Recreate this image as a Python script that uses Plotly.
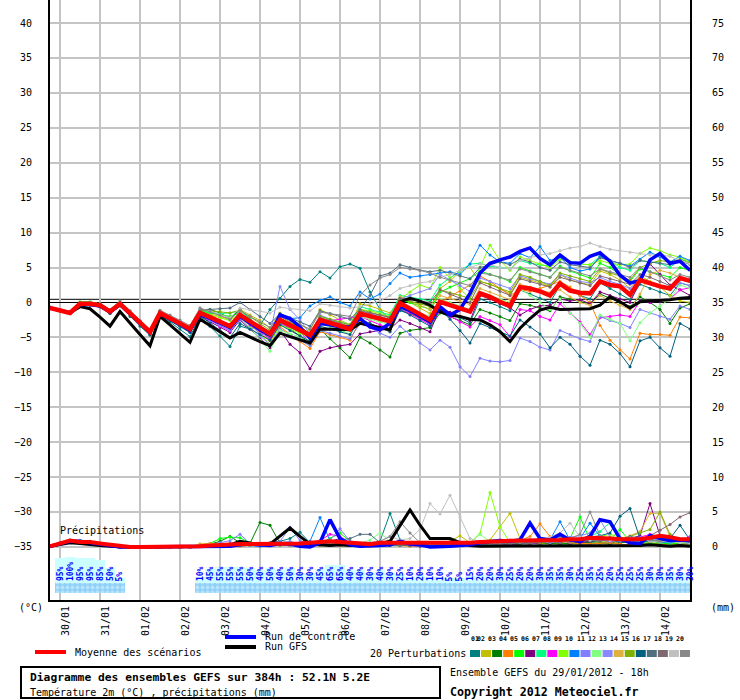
import plotly.graph_objects as go

FONT = "DejaVu Sans Mono"

# 6-hourly steps from 29/01 18h, 384h
hours = list(range(0, 385, 6))
day_ticks = list(range(6, 385, 24))
day_labels = ["30/01", "31/01", "01/02", "02/02", "03/02", "04/02", "05/02", "06/02",
              "07/02", "08/02", "09/02", "10/02", "11/02", "12/02", "13/02", "14/02"]

# temperature 2m (degC)
mean_t = [-0.8, -1.1, -1.5, -0.2, -0.2, -0.4, -1.3, -0.2, -1.5, -2.9, -4.2, -1.5, -2.2, -3.0, -3.8,
          -1.5, -2.1, -2.8, -3.4, -1.8, -2.7, -3.6, -4.5, -2.5, -3.2, -3.9, -4.7, -2.5, -2.9, -3.3,
          -3.8, -1.6, -2.0, -2.4, -2.7, -0.1, -0.9, -1.7, -2.5, 0.1, -0.4, -0.9, -1.3, 1.3, 0.8,
          0.1, -0.5, 2.2, 2.0, 1.6, 1.0, 2.7, 1.7, 1.4, 1.3, 3.0, 2.5, 2.3, 1.1, 3.2,
          2.7, 2.3, 2.0, 3.5, 3.1]
ctrl_t = [-0.8, -1.1, -1.5, -0.3, -0.3, -0.5, -1.4, -0.3, -1.6, -3.0, -4.3, -1.6, -2.3, -3.1, -4.0,
          -1.7, -2.3, -3.0, -3.6, -2.0, -3.0, -3.9, -4.7, -1.8, -2.3, -3.5, -5.1, -3.0, -3.2, -3.5,
          -3.5, -2.3, -3.5, -3.9, -3.0, -0.6, -1.2, -2.0, -2.8, -0.6, -1.8, -1.0, 1.3, 4.2, 5.6,
          6.1, 6.5, 7.3, 7.8, 6.3, 5.4, 6.8, 5.7, 5.6, 6.6, 7.1, 5.9, 3.9, 2.8, 3.1,
          6.1, 7.0, 5.6, 5.9, 4.6]
gfs_t = [-0.8, -1.1, -1.5, -0.6, -0.9, -2.1, -3.4, -1.3, -3.0, -4.6, -6.2, -2.0, -3.2, -4.4, -5.7,
         -2.4, -3.3, -4.2, -5.1, -4.3, -5.0, -5.6, -6.2, -4.4, -4.9, -5.4, -5.8, -3.8, -3.8, -3.9,
         -3.9, -3.0, -3.3, -3.5, -3.9, 0.1, 0.6, 0.2, -0.4, -1.3, -1.8, -2.0, -2.4, -2.5, -3.2,
         -4.2, -5.6, -3.7, -2.3, -1.1, -0.7, -1.0, -1.0, -1.0, -0.9, -0.4, 0.8, 0.1, -0.8, 0.1,
         0.2, 0.2, 0.4, 0.6, 0.7]

# precipitation (mm per 6h)
mean_p = [0.1, 0.5, 0.9, 0.7, 0.7, 0.5, 0.3, 0.1, 0, 0, 0, 0, 0, 0, 0,
          0.1, 0.2, 0.3, 0.3, 0.4, 0.4, 0.4, 0.4, 0.5, 0.5, 0.5, 0.6, 0.7, 0.8, 0.7,
          0.6, 0.5, 0.4, 0.6, 0.6, 0.5, 0.5, 0.5, 0.5, 0.5,
          0.6, 0.6, 0.6, 0.7, 0.7, 0.8, 0.9, 0.9, 1.0, 1.0,
          1.0, 1.0, 1.1, 1.1, 1.3, 1.3, 1.2, 1.1, 1.1, 1.1,
          1.3, 1.6, 1.4, 1.1, 1.1]
ctrl_p = [0.1, 0.5, 0.8, 0.8, 0.6, 0.4, 0.2, 0.0, 0, 0, 0, 0, 0, 0, 0,
          0.0, 0.0, 0.0, 0.1, 0.3, 0.4, 0.3, 0.2, 0.5, 0.4,
          0.1, 0.0, 0.6, 3.9, 1.2, 0.3, 0.1, 0.1, 0.2, 0.3,
          0.8, 0.4, 0.3, 0.0, 0.0, 0.1, 0.2, 0.3, 0.6, 0.8,
          0.9, 0.8, 1.0, 3.4, 1.2, 1.0, 1.8, 1.0, 0.8, 1.5,
          3.9, 3.6, 1.2, 0.6, 0.5, 1.6, 1.2, 0.9, 1.0, 0.9]
gfs_p = [0.1, 0.4, 0.6, 0.5, 0.3, 0.2, 0.1, 0.0, 0, 0, 0, 0, 0, 0, 0,
         0.0, 0.1, 0.2, 0.3, 0.8, 0.6, 0.3, 0.4, 1.5, 2.7,
         1.5, 0.4, 0.3, 0.2, 0.3, 0.2, 0.3, 0.4, 0.5, 0.8,
         3.1, 5.3, 3.1, 1.2, 1.2, 1.2, 0.6, 0.2, 0.1, 0.1,
         0.1, 0.2, 0.1, 0.1, 0.2, 0.1, 0.1, 0.2, 0.2, 0.1,
         0.1, 0.1, 0.2, 0.1, 0.2, 0.3, 0.2, 0.1, 0.2, 0.1]

# 20 perturbations, temperature
p01_t = [-0.8, -1.2, -1.6, -0.2, -0.3, -0.6, -1.6, -0.5, -2.0, -3.4, -4.7, -1.9, -2.8, -3.8, -4.9,
         -2.0, -3.4, -4.8, -6.3, -3.4, -3.8, -3.3, -1.0, 0.6, 2.3, 3.3, 2.9, 4.4, 3.5, 5.1,
         5.5, 4.9, 1.5, -1.0, -2.5, -1.2, -1.6, -2.2, -3.0, -0.8, -1.5, -2.2, -2.9, 0.5, 0.0,
         -0.6, -1.2, 1.8, 1.2, 0.6, 0.0, 2.4, 1.8, 1.0, 0.5, 2.8, 2.0, 1.2, 0.4, 2.6, 2.0, 1.5, 1.0, 2.8, 2.4]
p02_t = [-0.8, -1.1, -1.4, -0.1, -0.1, -0.3, -1.1, 0.0, -1.3, -2.6, -3.9, -1.2, -2.0, -2.8, -3.5,
         -1.3, -1.6, -2.0, -2.5, -1.0, -1.8, -2.6, -3.6, -1.5, -2.3, -3.2, -4.0, -1.0, -1.8, -2.5,
         -3.2, -0.2, -0.5, -1.0, -1.5, 0.5, 0.0, -0.8, -1.6, 2.0, 3.0, 4.5, 5.0, 3.0, 2.6,
         2.0, 1.2, 3.6, 3.2, 2.8, 2.2, 4.0, 3.2, 2.8, 2.5, 4.5, 4.0, 3.2, 2.0, 3.8, 3.0, 2.2, 1.0, 0.2, 0.0]
p03_t = [-0.7, -1.0, -1.4, 0.0, 0.0, -0.2, -1.1, -0.1, -1.5, -3.0, -4.4, -1.6, -2.4, -3.3, -4.2,
         -1.2, -1.0, -1.5, -2.3, -1.0, -2.4, -3.8, -5.2, -2.8, -3.8, -4.8, -6.0, -3.8, -5.2, -6.5,
         -7.9, -5.0, -5.8, -6.8, -7.8, -4.4, -4.0, -3.8, -3.6, -1.5, -2.0, -2.6, -3.2, -1.0, -1.5,
         -2.0, -2.6, -0.2, -0.4, -0.8, -1.2, 0.8, 0.5, 0.2, -0.2, 1.2, 0.6, 0.0, -0.6, 0.8, 0.0, -1.0, -3.0, -0.8, -0.2]
p04_t = [-0.9, -1.2, -1.6, -0.3, -0.3, -0.5, -1.4, -0.3, -1.7, -3.1, -4.5, -1.8, -2.5, -3.3, -4.1,
         -1.6, -2.3, -3.0, -3.7, -2.2, -3.3, -4.4, -5.5, -3.5, -4.6, -5.6, -6.6, -4.2, -4.6, -5.0,
         -5.4, -2.6, -3.0, -3.6, -4.2, -1.0, -1.6, -2.2, -2.8, 0.0, 0.8, 1.6, 2.5, 3.8, 3.0,
         2.0, 1.0, 1.8, 1.6, 2.0, 2.5, 3.0, 2.2, 1.0, 0.0, -3.3, -5.4, -6.8, -8.1, -4.4, -4.6, -4.6, -4.7, -2.1, -2.2]
p05_t = [-0.7, -1.0, -1.4, 0.1, 0.1, -0.2, -1.0, 0.0, -1.3, -2.7, -4.0, -1.3, -2.0, -2.8, -3.6,
         -1.3, -1.5, -1.8, -2.0, -1.5, -2.8, -4.0, -5.2, -3.0, -3.6, -4.2, -4.8, -2.2, -2.8, -3.4,
         -4.0, -1.3, -1.8, -2.4, -3.0, 0.4, 0.0, -0.5, -1.0, 1.5, 2.2, 2.8, 3.4, 4.5, 4.0,
         3.6, 3.0, 5.0, 4.5, 4.0, 3.6, 5.2, 4.5, 4.0, 3.5, 5.6, 5.0, 4.0, 3.0, 4.8, 4.4, 4.0, 3.6, 5.0, 4.6]
p06_t = [-0.8, -1.1, -1.5, -0.3, -0.3, -0.5, -1.5, -0.4, -1.7, -3.0, -4.4, -1.7, -2.4, -3.3, -4.2,
         -2.0, -2.8, -3.6, -4.3, -2.5, -3.8, -5.2, -6.5, -4.0, -6.0, -7.2, -9.5, -7.0, -6.5, -6.2,
         -6.0, -4.5, -4.2, -4.0, -3.8, -2.5, -3.0, -3.6, -4.2, -0.8, -1.4, -2.0, -2.6, 1.0, 0.5,
         -0.2, -0.8, -1.8, -1.0, -0.5, -0.4, 0.5, 0.2, 0.4, -0.2, 1.5, 1.0, 0.5, 0.0, 3.0, 5.5, 4.0, 2.5, 1.8, 1.0]
p07_t = [-0.7, -1.0, -1.4, 0.0, 0.0, -0.3, -1.2, -0.1, -1.4, -2.8, -4.1, -1.4, -2.0, -2.8, -3.6,
         -1.2, -1.4, -1.6, -1.5, -1.2, -2.4, -3.6, -4.8, -2.4, -3.2, -4.0, -4.8, -2.0, -2.4, -2.8,
         -3.2, -0.6, -1.0, -1.4, -1.8, 1.0, 0.8, 0.5, 0.2, 2.5, 3.5, 4.5, 5.5, 5.6, 5.2,
         5.0, 4.8, 6.0, 5.6, 5.4, 5.2, 6.4, 5.8, 5.5, 5.4, 6.6, 6.0, 5.0, 4.6, 6.0, 5.8, 5.6, 5.0, 6.2, 5.8]
p08_t = [-0.8, -1.1, -1.5, -0.2, -0.2, -0.4, -1.3, -0.2, -1.6, -3.0, -4.3, -1.6, -2.4, -3.2, -4.0,
         -1.8, -2.6, -3.4, -4.1, -2.2, -3.2, -4.2, -5.2, -3.0, -3.6, -4.2, -5.8, -3.0, -2.6, -2.4,
         -2.3, -2.0, -2.6, -3.2, -3.8, -1.0, -1.6, -2.4, -3.2, -1.2, -2.0, -2.8, -3.5, -2.0, -2.6,
         -3.2, -4.9, -1.0, -1.2, -2.0, -2.5, -0.2, -1.5, -2.8, -4.6, -2.2, -2.0, -1.8, -2.0, 0.2, 0.0, 0.2, 0.5, 1.8, 2.1]
p09_t = [-0.7, -1.0, -1.4, 0.0, 0.0, -0.2, -1.1, 0.0, -1.3, -2.7, -4.0, -1.2, -2.0, -2.8, -3.6,
         -1.4, -1.8, -2.2, -2.6, -1.5, -3.0, -4.5, -6.0, -3.2, -3.8, -4.4, -5.0, -2.3, -2.8, -3.4,
         -4.0, -1.0, -1.2, -1.6, -2.0, 0.5, 1.5, 2.5, 2.0, 5.0, 3.5, 2.0, 0.5, 5.0, 8.2,
         6.0, 4.6, 6.5, 6.0, 5.5, 5.0, 6.2, 5.8, 5.5, 5.4, 6.0, 5.6, 5.4, 5.5, 7.0, 7.8, 7.4, 6.8, 6.5, 5.8]
p10_t = [-0.8, -1.1, -1.5, -0.3, -0.3, -0.5, -1.4, -0.3, -1.6, -3.0, -4.3, -1.6, -2.3, -3.1, -3.9,
         -1.6, -2.2, -2.8, -3.4, -1.8, -2.6, -3.4, -4.2, -2.0, -2.3, -2.2, -0.5, 0.3, 0.8, 0.0,
         -0.5, 1.5, 0.5, 1.2, 2.7, 4.2, 3.6, 3.8, 4.0, 4.2, 4.4, 4.0, 5.5, 8.2, 6.8,
         5.8, 5.6, 7.0, 6.4, 8.0, 6.0, 6.5, 5.0, 4.5, 4.8, 6.6, 6.0, 5.6, 5.2, 6.2, 7.2, 6.5, 5.8, 6.6, 6.0]
p11_t = [-0.8, -1.1, -1.5, -0.2, -0.3, -0.5, -1.4, -0.3, -1.7, -3.1, -4.4, -1.8, -2.5, -3.3, -4.1,
         -1.9, -2.6, -3.3, -4.0, -2.4, -3.6, -4.8, -6.0, -3.8, -4.6, -5.4, -6.2, -4.0, -4.4, -4.8,
         -5.2, -3.0, -3.6, -4.4, -5.0, -3.4, -4.6, -5.8, -6.8, -5.4, -6.4, -9.2, -10.6, -8.0, -8.4,
         -8.5, -8.3, -5.1, -5.6, -6.4, -6.8, -4.0, -4.6, -5.2, -5.6, -2.0, -2.6, -3.0, -3.6, -1.0, -1.5, -2.0, -2.4, -0.5, -1.0]
p12_t = [-0.8, -1.1, -1.5, -0.2, -0.2, -0.4, -1.3, -0.2, -1.6, -3.0, -4.3, -1.5, -2.3, -3.1, -3.9,
         -1.6, -2.3, -3.0, -3.6, -2.0, -3.7, -5.4, -7.0, -4.0, -4.5, -5.0, -5.4, -3.0, -3.5, -4.0,
         -4.5, -2.0, -2.4, -2.8, -3.2, -0.5, -1.0, -1.5, -2.0, 0.5, 0.0, -0.5, -1.0, 1.5, 1.0,
         0.5, 0.0, 2.0, 1.0, 0.0, -1.0, 0.5, -1.5, -3.0, -5.0, -1.8, -2.4, -3.0, -5.5, -2.9, -1.5, -0.5, 0.5, 2.5, 2.0]
p13_t = [-0.8, -1.1, -1.5, -0.2, -0.3, -0.5, -1.3, -0.3, -1.5, -2.9, -4.2, -1.5, -2.3, -3.0, -3.8,
         -1.5, -2.1, -2.7, -3.3, -1.3, -3.0, -4.6, -4.5, 2.3, -1.0, -2.5, -4.5, -1.8, -2.4, -3.0,
         -3.6, -1.2, -1.6, -2.0, -2.4, 0.5, 1.0, 1.5, 2.0, 4.0, 3.2, 2.4, 1.6, 3.5, 3.0,
         2.5, 2.0, 3.8, 3.4, 3.0, 2.6, 4.0, 3.5, 3.0, 2.8, 3.6, 3.0, 2.6, 2.0, 3.4, 2.8, 2.2, 1.8, 2.8, 2.4]
p14_t = [-0.7, -1.0, -1.4, -0.1, -0.1, -0.3, -1.2, -0.1, -1.4, -2.8, -4.1, -1.3, -2.1, -2.9, -3.7,
         -1.4, -2.0, -2.6, -3.2, -1.6, -2.6, -3.6, -4.6, -2.4, -3.0, -3.6, -4.4, -2.2, -2.6, -3.0,
         -3.4, -1.4, -1.8, -2.2, -2.6, 0.8, 0.2, -0.4, -1.0, 1.0, 0.6, 0.2, -0.3, 2.0, 1.5,
         1.0, 0.4, 2.6, 2.2, 1.8, 1.4, 1.8, 0.8, 0.0, -0.4, 1.0, 0.2, -0.4, -1.0, 1.2, 4.0, 4.6, 4.2, 3.6, 3.0]
p15_t = [-0.7, -1.0, -1.4, 0.0, 0.0, -0.3, -1.2, -0.1, -1.4, -2.8, -4.1, -1.4, -2.1, -2.9, -3.7,
         -1.2, -1.2, -1.3, -1.5, -1.1, -2.0, -3.0, -4.0, -2.0, -2.8, -3.6, -4.4, -2.0, -2.4, -2.8,
         -3.2, -1.0, -1.4, -1.8, -2.2, 0.6, 0.2, -0.2, -0.6, 1.8, 1.4, 1.0, 0.6, 3.0, 2.6,
         2.0, 1.5, 4.0, 3.6, 3.0, 2.4, 4.2, 3.8, 3.4, 3.0, 4.8, 4.2, 3.8, 3.2, 5.0, 5.6, 6.0, 5.8, 6.2, 5.6]
p16_t = [-0.9, -1.2, -1.6, -0.3, -0.4, -0.6, -1.5, -0.4, -1.8, -3.2, -4.6, -1.8, -2.6, -3.4, -4.3,
         -1.9, -3.0, -4.0, -5.0, -3.0, -3.8, -4.6, -5.4, -3.2, -4.0, -4.8, -5.6, -3.4, -3.8, -4.2,
         -4.6, -2.4, -3.0, -3.6, -4.2, -1.0, -1.8, -2.6, -3.4, -1.0, -2.4, -4.0, -5.8, -3.0, -3.6,
         -4.2, -4.8, -2.5, -3.5, -4.5, -6.5, -5.0, -6.0, -7.7, -9.0, -5.4, -6.0, -7.3, -9.2, -5.5, -5.0, -6.5, -7.7, -3.0, -3.8]
p17_t = [-0.7, -1.0, -1.4, -0.1, -0.1, -0.3, -1.2, 0.0, -1.3, -2.7, -4.0, -1.2, -1.9, -2.7, -3.5,
         -1.0, -1.0, -0.9, -0.8, 0.0, -1.0, -2.0, -3.0, -1.6, -2.2, -2.8, -3.4, -1.2, -1.6, -2.0,
         -2.4, -1.0, 1.0, 3.8, 4.2, 5.4, 5.0, 4.6, 4.4, 4.6, 4.2, 3.8, 3.4, 5.0, 5.4,
         5.8, 5.4, 6.2, 5.8, 5.0, 4.6, 5.8, 5.4, 5.2, 5.0, 6.4, 6.0, 5.6, 5.0, 6.0, 5.8, 5.6, 5.4, 6.0, 5.4]
p18_t = [-0.8, -1.1, -1.5, -0.2, -0.2, -0.4, -1.3, -0.2, -1.5, -2.9, -4.2, -1.4, -2.1, -2.9, -3.7,
         -1.4, -2.0, -2.6, -3.2, -1.7, -2.6, -3.5, -4.4, -2.3, -3.0, -3.7, -4.4, -2.2, -2.6, -3.0,
         -3.4, -1.2, -1.5, -1.8, -2.1, 0.6, 0.4, 0.2, 0.0, 1.8, 1.2, 0.6, 0.0, 2.8, 2.2,
         1.6, 1.0, 3.4, 3.0, 2.6, 2.2, 3.6, 3.2, 2.8, 2.4, 3.8, 3.4, 3.0, 2.6, 4.0, 3.6, 3.0, 2.4, 3.4, 3.0]
p19_t = [-0.7, -1.0, -1.4, 0.0, 0.0, -0.2, -1.0, 0.1, -1.2, -2.6, -3.9, -1.2, -1.9, -2.6, -3.4,
         -0.8, -1.3, -1.8, -2.2, -0.8, -1.0, -1.2, -1.5, -0.7, -0.9, -1.0, -1.2, -0.2, -0.4, -0.6,
         -0.8, -0.6, -0.2, 0.2, 1.0, 2.0, 2.4, 2.8, 3.0, 3.6, 4.0, 4.6, 5.0, 5.5, 5.4,
         5.0, 4.8, 6.0, 6.4, 6.8, 7.0, 7.4, 7.8, 8.0, 8.5, 8.0, 7.6, 7.4, 7.2, 7.0, 6.8, 6.8, 6.6, 6.0, 5.5]
p20_t = [-0.7, -1.0, -1.3, 0.0, 0.0, -0.2, -1.0, 0.2, -1.2, -2.6, -3.9, -1.1, -1.8, -2.5, -3.3,
         -0.8, -1.3, -1.8, -2.4, -1.2, -2.0, -2.8, -3.6, -2.0, -2.6, -3.2, -3.8, -1.4, -1.6, -1.8,
         -2.0, 1.0, 2.5, 3.5, 4.0, 5.0, 4.8, 4.6, 4.2, 3.6, 3.2, 2.8, 2.4, 4.2, 4.0,
         3.6, 3.2, 4.8, 4.4, 4.0, 3.6, 5.0, 4.6, 4.2, 3.8, 4.8, 4.4, 4.0, 3.6, 5.0, 4.4, 3.8, 3.2, 4.0, 3.6]

# 20 perturbations, precipitation
p01_p = [0.1, 0.6, 1.0, 0.8, 0.7, 0.5, 0.3, 0.1, 0, 0, 0, 0, 0, 0, 0,
         0.2, 0.3, 0.3, 0.5, 0.4, 0.3, 0.5, 0.6, 0.8, 1.2, 2.1, 0.6, 0.4, 0.5, 0.4,
         0.3, 0.4, 0.6, 0.8, 4.8, 1.0, 0.3, 0.2, 0.2, 0.3,
         0.3, 0.2, 0.2, 0.3, 0.4, 0.5, 0.4, 0.6, 0.5, 0.4,
         0.6, 0.5, 0.4, 0.6, 0.8, 0.7, 0.5, 0.9, 0.6, 0.5,
         0.4, 0.6, 0.5, 0.4, 0.3]
p02_p = [0.2, 0.5, 0.8, 0.7, 0.6, 0.4, 0.2, 0.0, 0, 0, 0, 0, 0, 0, 0,
         0.3, 0.4, 0.2, 0.3, 0.2, 0.3, 0.2, 0.4, 0.3, 0.2, 0.3, 0.2, 0.4, 0.3, 0.2,
         0.2, 0.3, 0.2, 0.3, 0.2, 0.3, 0.4, 0.3, 0.2, 0.5,
         0.8, 1.6, 0.6, 0.5, 1.0, 2.9, 4.8, 1.2, 0.6, 0.5,
         0.4, 0.6, 0.5, 0.4, 0.5, 0.6, 0.8, 0.6, 0.7, 1.0,
         0.8, 0.6, 0.5, 0.4, 0.5]
p03_p = [0.1, 0.4, 0.8, 0.9, 0.8, 0.5, 0.3, 0.1, 0, 0, 0, 0, 0, 0, 0,
         0.2, 0.4, 0.8, 1.5, 0.6, 0.5, 3.5, 3.1, 0.5, 0.3, 0.2, 0.2, 0.3, 0.4, 0.3,
         0.2, 0.3, 0.2, 0.2, 0.3, 0.2, 0.2, 0.3, 0.2, 0.1,
         0.2, 0.3, 0.2, 0.3, 0.4, 0.3, 0.2, 0.4, 0.5, 0.6,
         0.5, 0.4, 0.5, 0.7, 0.6, 0.5, 0.4, 0.6, 0.8, 0.9,
         0.7, 1.0, 0.8, 0.6, 0.5]
p04_p = [0.1, 0.5, 0.9, 0.6, 0.5, 0.4, 0.2, 0.0, 0, 0, 0, 0, 0, 0, 0,
         0.4, 0.5, 0.3, 0.2, 0.1, 0.2, 0.3, 0.2, 0.3, 0.4, 0.3, 0.2, 0.2, 0.3, 0.2,
         0.3, 0.2, 0.1, 0.2, 0.3, 0.2, 0.1, 0.2, 0.3, 0.2,
         0.3, 0.4, 0.3, 0.4, 0.5, 0.6, 0.8, 0.9, 1.5, 3.3,
         1.5, 0.8, 0.6, 0.5, 0.4, 0.5, 0.6, 0.4, 0.3, 0.5,
         0.6, 0.4, 0.3, 0.4, 0.3]
p05_p = [0.1, 0.5, 0.8, 0.8, 0.6, 0.4, 0.2, 0.0, 0, 0, 0, 0, 0, 0, 0,
         0.2, 0.5, 1.2, 1.4, 1.3, 0.6, 0.4, 0.3, 0.4, 0.3, 0.2, 0.3, 0.6, 1.2, 2.0,
         0.8, 0.4, 0.3, 0.2, 0.3, 0.2, 0.2, 0.3, 0.2, 0.3,
         0.2, 0.3, 0.4, 0.3, 0.4, 0.5, 0.4, 0.5, 0.6, 0.8,
         1.0, 0.8, 1.2, 4.3, 1.0, 0.8, 1.0, 2.5, 0.8, 0.6,
         0.5, 0.6, 0.4, 0.5, 0.4]
p06_p = [0.1, 0.4, 0.7, 0.6, 0.5, 0.3, 0.2, 0.0, 0, 0, 0, 0, 0, 0, 0,
         0.1, 0.2, 0.3, 0.4, 0.3, 0.2, 0.3, 0.4, 0.3, 0.2, 0.3, 0.4, 0.5, 0.8, 1.2,
         0.6, 0.3, 0.2, 0.3, 0.2, 0.3, 0.2, 0.1, 0.2, 0.2,
         0.3, 0.2, 0.3, 0.2, 0.3, 0.4, 0.3, 0.5, 0.4, 0.6,
         0.8, 0.7, 0.9, 0.6, 0.8, 1.0, 0.8, 0.9, 1.2, 1.6,
         6.2, 1.6, 0.8, 0.6, 0.5]
p07_p = [0.1, 0.5, 0.8, 0.7, 0.6, 0.4, 0.2, 0.0, 0, 0, 0, 0, 0, 0, 0,
         0.1, 0.2, 0.3, 0.2, 0.3, 0.2, 0.3, 0.4, 0.3, 0.4, 0.3, 0.4, 0.5, 0.7, 0.9,
         0.5, 0.3, 0.2, 0.3, 0.2, 0.3, 0.2, 0.3, 0.2, 0.3,
         0.4, 0.3, 0.4, 0.5, 0.4, 0.6, 0.5, 0.7, 0.6, 0.8,
         0.9, 0.7, 0.8, 1.0, 1.5, 2.2, 3.5, 1.4, 0.8, 0.9,
         1.0, 0.8, 0.6, 0.7, 0.6]
p08_p = [0.1, 0.4, 0.7, 0.7, 0.6, 0.4, 0.2, 0.0, 0, 0, 0, 0, 0, 0, 0,
         0.1, 0.1, 0.2, 0.3, 0.2, 0.3, 0.2, 0.3, 0.4, 0.3, 0.4, 0.6, 0.9, 1.8, 1.5,
         0.6, 0.4, 0.3, 0.2, 0.3, 0.2, 0.3, 0.2, 0.2, 0.3,
         0.2, 0.3, 0.4, 0.3, 0.5, 0.4, 0.6, 0.5, 0.7, 0.6,
         0.8, 0.9, 0.7, 0.8, 1.0, 0.9, 1.1, 0.8, 1.0, 1.4,
         1.8, 1.2, 1.0, 0.8, 1.5]
p09_p = [0.1, 0.5, 0.9, 0.8, 0.7, 0.4, 0.2, 0.0, 0, 0, 0, 0, 0, 0, 0,
         0.1, 0.2, 0.2, 0.3, 0.2, 0.3, 0.3, 0.2, 0.3, 0.2, 0.3, 0.4, 0.3, 0.5, 0.4,
         0.3, 0.4, 0.5, 0.6, 0.5, 0.4, 0.3, 0.2, 0.3, 0.4,
         0.5, 0.4, 0.6, 1.9, 7.8, 2.9, 0.6, 0.5, 0.6, 0.7,
         0.8, 1.0, 0.8, 0.9, 1.2, 1.5, 1.8, 1.4, 1.0, 1.2,
         1.4, 1.0, 0.9, 0.8, 0.7]
p10_p = [0.1, 0.5, 0.8, 0.7, 0.6, 0.4, 0.2, 0.0, 0, 0, 0, 0, 0, 0, 0,
         0.1, 0.1, 0.2, 0.2, 0.3, 0.2, 0.1, 0.2, 0.3, 0.4, 0.3, 0.8, 4.2, 0.9, 0.4,
         0.3, 0.2, 0.3, 0.4, 0.3, 1.0, 0.6, 0.3, 0.2, 0.2,
         0.3, 0.2, 0.3, 0.4, 0.5, 0.6, 0.8, 1.0, 0.8, 1.2,
         1.0, 3.6, 1.0, 1.2, 3.4, 1.5, 1.0, 0.8, 1.0, 0.8,
         0.9, 0.7, 0.6, 0.8, 0.6]
p11_p = [0.1, 0.5, 0.9, 0.8, 0.6, 0.4, 0.2, 0.0, 0, 0, 0, 0, 0, 0, 0,
         0.1, 0.3, 0.6, 0.9, 1.8, 0.5, 0.3, 0.4, 0.8, 2.8, 0.9, 0.4, 0.5, 1.0, 2.6,
         0.8, 0.4, 0.3, 0.2, 0.3, 0.2, 0.3, 0.2, 0.1, 0.2,
         0.3, 0.2, 0.3, 0.4, 0.3, 0.5, 0.4, 0.6, 0.5, 0.7,
         0.6, 0.8, 0.7, 0.9, 1.2, 1.0, 0.8, 1.0, 1.2, 1.4,
         1.0, 0.8, 1.2, 1.0, 0.8]
p12_p = [0.1, 0.4, 0.8, 0.7, 0.6, 0.4, 0.2, 0.0, 0, 0, 0, 0, 0, 0, 0,
         0.1, 0.2, 0.3, 0.2, 0.3, 0.2, 0.3, 0.2, 0.3, 0.2, 0.3, 0.4, 0.6, 0.8, 0.7,
         0.4, 0.5, 1.0, 2.0, 0.8, 0.4, 0.3, 0.2, 0.3, 0.2,
         0.3, 0.4, 0.6, 1.8, 0.8, 0.6, 0.5, 0.6, 0.7, 0.8,
         0.9, 1.0, 1.2, 1.0, 0.9, 1.1, 1.4, 1.0, 0.8, 0.9,
         1.0, 0.8, 0.7, 0.6, 0.7]
p13_p = [0.1, 0.5, 0.8, 0.8, 0.6, 0.4, 0.2, 0.0, 0, 0, 0, 0, 0, 0, 0,
         0.1, 0.2, 0.3, 0.4, 0.3, 0.2, 0.3, 0.4, 0.6, 0.8, 0.4, 0.3, 0.4, 0.6, 0.8,
         0.5, 0.3, 0.2, 0.3, 0.2, 0.3, 0.2, 0.3, 0.2, 0.3,
         0.2, 0.3, 0.4, 0.5, 0.4, 0.6, 0.8, 1.0, 0.8, 1.0,
         1.2, 1.0, 1.4, 1.6, 2.0, 3.9, 1.4, 1.0, 1.2, 1.0,
         0.9, 1.2, 1.5, 1.0, 0.9]
p14_p = [0.1, 0.5, 0.8, 0.7, 0.6, 0.4, 0.2, 0.0, 0, 0, 0, 0, 0, 0, 0,
         0.4, 0.5, 0.3, 0.2, 0.3, 0.2, 0.3, 0.2, 0.3, 0.2, 0.3, 0.2, 0.3, 0.5, 0.4,
         0.3, 0.2, 0.3, 0.2, 0.3, 0.2, 0.3, 0.2, 0.3, 0.4,
         0.3, 0.4, 0.5, 0.4, 0.6, 0.5, 0.7, 0.6, 0.8, 0.9,
         0.8, 1.0, 0.9, 1.1, 1.2, 1.0, 1.4, 1.2, 1.6, 2.2,
         4.8, 4.8, 1.5, 1.0, 0.8]
p15_p = [0.1, 0.5, 0.8, 0.7, 0.6, 0.4, 0.2, 0.0, 0, 0, 0, 0, 0, 0, 0,
         0.1, 0.2, 0.2, 0.3, 0.2, 0.3, 0.4, 0.3, 0.2, 0.3, 0.4, 0.3, 0.4, 0.5, 0.4,
         0.3, 0.4, 0.3, 0.2, 0.3, 0.2, 0.3, 0.2, 0.3, 0.2,
         0.3, 0.2, 0.4, 0.3, 0.5, 0.4, 0.6, 0.5, 0.7, 0.6,
         0.8, 1.0, 0.8, 1.2, 1.0, 1.2, 1.4, 1.0, 1.5, 2.0,
         2.5, 5.0, 1.8, 1.0, 0.9]
p16_p = [0.1, 0.4, 0.7, 0.6, 0.5, 0.3, 0.2, 0.0, 0, 0, 0, 0, 0, 0, 0,
         0.1, 0.2, 0.3, 0.2, 0.3, 0.2, 0.3, 0.4, 0.3, 0.2, 0.3, 0.4, 0.3, 0.4, 0.5,
         0.4, 0.3, 0.2, 0.3, 0.2, 0.3, 0.2, 0.3, 0.2, 0.3,
         0.2, 0.3, 0.4, 0.3, 0.4, 0.5, 0.6, 0.5, 0.7, 0.8,
         0.9, 1.0, 1.2, 1.0, 1.4, 1.6, 2.0, 4.4, 5.5, 1.2,
         1.0, 0.8, 1.2, 3.1, 1.0]
p17_p = [0.1, 0.5, 0.8, 0.7, 0.6, 0.4, 0.2, 0.0, 0, 0, 0, 0, 0, 0, 0,
         0.1, 0.2, 0.3, 0.2, 0.3, 0.2, 0.3, 0.2, 0.3, 0.4, 0.5, 0.4, 0.3, 0.6, 1.0,
         1.2, 1.8, 1.8, 0.6, 0.3, 0.2, 0.3, 0.2, 0.3, 0.2,
         0.3, 0.4, 0.3, 0.4, 0.5, 0.4, 0.6, 0.7, 0.6, 0.8,
         0.9, 0.8, 1.0, 1.2, 1.0, 1.4, 1.2, 1.0, 1.5, 1.2,
         1.0, 1.4, 1.2, 1.0, 0.9]
p18_p = [0.1, 0.4, 0.7, 0.7, 0.6, 0.4, 0.2, 0.0, 0, 0, 0, 0, 0, 0, 0,
         0.1, 0.2, 0.3, 0.2, 0.3, 0.2, 0.3, 0.2, 0.3, 0.4, 0.3, 0.4, 0.3, 0.4, 0.5,
         0.4, 0.3, 0.2, 0.3, 0.4, 0.3, 0.2, 0.3, 0.2, 0.3,
         0.4, 0.3, 0.4, 0.3, 0.5, 0.4, 0.5, 0.6, 0.5, 0.7,
         0.8, 0.6, 0.9, 0.7, 1.0, 0.8, 1.2, 1.0, 1.4, 1.2,
         1.6, 2.4, 3.2, 4.3, 4.9]
p19_p = [0.1, 0.5, 0.9, 0.8, 0.7, 0.5, 0.3, 0.1, 0, 0, 0, 0, 0, 0, 0,
         0.1, 0.2, 0.3, 0.2, 0.3, 0.2, 0.3, 0.2, 0.3, 0.2, 0.3, 0.4, 0.3, 0.4, 0.5,
         0.4, 0.5, 0.6, 0.8, 1.5, 1.0, 1.2, 2.5, 6.2, 4.7,
         7.4, 4.3, 1.2, 0.8, 0.6, 0.8, 1.0, 0.8, 1.2, 1.0,
         1.4, 2.0, 3.4, 1.4, 1.0, 1.2, 0.9, 1.0, 0.8, 1.0,
         0.8, 0.7, 0.9, 0.6, 0.5]
p20_p = [0.1, 0.5, 0.8, 0.7, 0.6, 0.4, 0.2, 0.0, 0, 0, 0, 0, 0, 0, 0,
         0.1, 0.2, 0.3, 0.2, 0.3, 0.2, 0.3, 0.2, 0.3, 0.2, 0.3, 0.4, 0.3, 0.4, 0.5,
         0.4, 0.3, 0.4, 0.8, 1.5, 3.6, 2.0, 0.6, 0.4, 0.5,
         0.4, 0.3, 0.4, 0.5, 0.4, 0.6, 0.8, 0.6, 1.0, 1.2,
         1.0, 1.4, 1.2, 1.8, 5.0, 1.6, 1.2, 1.0, 1.4, 1.2,
         1.0, 0.8, 1.0, 0.9, 0.8]

pert_colors = ["#008080", "#c0c000", "#008000", "#ff8000", "#00ff00", "#800080", "#00ff80",
               "#ff00ff", "#80ff00", "#0080ff", "#8080ff", "#80ff80", "#8888ff", "#e0b040",
               "#80b000", "#006080", "#507080", "#806870", "#c0c0c0", "#888888"]
pert_labels = ["%02d" % (k + 1) for k in range(20)]

# probability of precipitation (%), per 6h step
prob_hours = [6, 12, 18, 24, 30, 36, 42] + list(range(90, 385, 6))
prob_values = [95, 100, 95, 95, 85, 50, 5,
               10, 45, 55, 55, 55, 50, 40, 50, 40, 50,
               30, 30, 45, 65, 65, 40, 40, 30, 40, 30,
               25, 10, 20, 10, 10, 5, 5, 15, 20, 20,
               30, 25, 20, 20, 30, 35, 35, 30, 25, 35,
               25, 20, 25, 25, 25, 30, 30, 35, 30, 30]

PERT_T = [p01_t, p02_t, p03_t, p04_t, p05_t, p06_t, p07_t, p08_t, p09_t, p10_t,
          p11_t, p12_t, p13_t, p14_t, p15_t, p16_t, p17_t, p18_t, p19_t, p20_t]
PERT_P = [p01_p, p02_p, p03_p, p04_p, p05_p, p06_p, p07_p, p08_p, p09_p, p10_p,
          p11_p, p12_p, p13_p, p14_p, p15_p, p16_p, p17_p, p18_p, p19_p, p20_p]

for s in PERT_T + PERT_P + [mean_t, ctrl_t, gfs_t, mean_p, ctrl_p, gfs_p]:
    assert len(s) == len(hours), len(s)
assert len(prob_hours) == len(prob_values)


def px(x):
    return (x - 50) / 640.0


def py(y):
    return (600 - y) / 600.0


fig = go.Figure()

# probability boxes + snow band
fig.add_trace(go.Bar(x=prob_hours, y=[0.5 + p * 0.032 for p in prob_values], base=-5.15,
                     width=6, yaxis="y2", marker=dict(color="#ccffff", line_width=0),
                     hoverinfo="skip"))
fig.add_trace(go.Bar(x=prob_hours, y=[1.45] * len(prob_hours), base=-6.6, width=6, yaxis="y2",
                     marker=dict(color="#8fd0f8", line_width=0,
                                 pattern=dict(shape=".", fgcolor="#e0f6ff", size=5, solidity=0.45)),
                     hoverinfo="skip"))

for k in range(20):
    fig.add_trace(go.Scatter(x=hours, y=PERT_T[k], mode="lines+markers",
                             line=dict(color=pert_colors[k], width=1),
                             marker=dict(size=3, color=pert_colors[k]), name=pert_labels[k]))
for k in range(20):
    fig.add_trace(go.Scatter(x=hours, y=PERT_P[k], yaxis="y2", mode="lines+markers",
                             line=dict(color=pert_colors[k], width=1),
                             marker=dict(size=3, color=pert_colors[k]), name=pert_labels[k]))

fig.add_trace(go.Scatter(x=hours, y=gfs_t, mode="lines", line=dict(color="black", width=3)))
fig.add_trace(go.Scatter(x=hours, y=gfs_p, yaxis="y2", mode="lines", line=dict(color="black", width=3)))
fig.add_trace(go.Scatter(x=hours, y=ctrl_t, mode="lines", line=dict(color="#0000ff", width=3.5)))
fig.add_trace(go.Scatter(x=hours, y=ctrl_p, yaxis="y2", mode="lines", line=dict(color="#0000ff", width=3.5)))
fig.add_trace(go.Scatter(x=hours, y=mean_t, mode="lines", line=dict(color="#ff0000", width=4.5)))
fig.add_trace(go.Scatter(x=hours, y=mean_p, yaxis="y2", mode="lines", line=dict(color="#ff0000", width=4)))

annotations = []


def label(x, y, text, size=10, anchor="left"):
    annotations.append(dict(x=px(x), y=py(y), xref="paper", yref="paper", text=text,
                            showarrow=False, xanchor=anchor, yanchor="middle",
                            font=dict(family=FONT, size=size, color="#000000")))


label(58, 530, "Précipitations")
label(31, 607, "(°C)", anchor="center")
label(73, 652, "Moyenne des scénarios")
label(263, 636, "Run de contrôle")
label(263, 646, "Run GFS")
label(368, 653, "20 Perturbations")
label(28, 677, "<b>Diagramme des ensembles GEFS sur 384h : 52.1N 5.2E</b>", size=11.3)
label(28, 692, "Température 2m (°C) , précipitations (mm)")
label(448, 672, "Ensemble GEFS du 29/01/2012 - 18h")
label(448, 692, "<b>Copyright 2012 Meteociel.fr</b>", size=11.6)
# right unit label, with an opaque box so nothing else shows through
annotations.append(dict(x=px(709), y=py(607), xref="paper", yref="paper", text="(mm)",
                        showarrow=False, xanchor="left", yanchor="middle", bgcolor="white",
                        font=dict(family=FONT, size=10, color="black")))

for h, p in zip(prob_hours, prob_values):
    annotations.append(dict(x=h, y=-5.25, xref="x", yref="y2", text="<b>%d%%</b>" % p,
                            textangle=-90, showarrow=False, yanchor="bottom", xanchor="center",
                            font=dict(family=FONT, size=8, color="#0000ff")))

shapes = [
    dict(type="line", xref="x", yref="y", x0=0, x1=384, y0=0.45, y1=0.45,
         line=dict(color="black", width=1), layer="below"),
    dict(type="line", xref="paper", yref="paper", x0=px(35), x1=px(66), y0=py(652), y1=py(652),
         line=dict(color="#ff0000", width=4)),
    dict(type="line", xref="paper", yref="paper", x0=px(225), x1=px(256), y0=py(637), y1=py(637),
         line=dict(color="#0000ff", width=4)),
    dict(type="line", xref="paper", yref="paper", x0=px(225), x1=px(256), y0=py(647), y1=py(647),
         line=dict(color="black", width=4)),
    dict(type="rect", xref="paper", yref="paper", x0=px(21), x1=px(440), y0=py(667), y1=py(698),
         line=dict(color="black", width=2)),
]
for k in range(20):
    x0 = 470 + 11.05 * k
    shapes.append(dict(type="rect", xref="paper", yref="paper", x0=px(x0), x1=px(x0 + 10),
                       y0=py(650), y1=py(657), fillcolor=pert_colors[k], line_width=0))
    annotations.append(dict(x=px(x0 + 5), y=py(643.5), xref="paper", yref="paper",
                            text="<b>%s</b>" % pert_labels[k], showarrow=False, borderpad=0,
                            font=dict(family=FONT, size=6.5, color="black")))

fig.update_layout(
    width=740, height=700,
    margin=dict(l=50, r=50, t=0, b=100),
    paper_bgcolor="white", plot_bgcolor="white",
    showlegend=False, barmode="overlay", bargap=0,
    font=dict(family=FONT, size=10, color="black"),
    xaxis=dict(range=[0, 384], tickvals=day_ticks, ticktext=day_labels, tickangle=-90,
               showgrid=True, gridcolor="#c4c4c4", gridwidth=1.5, zeroline=False,
               showline=True, linecolor="black", linewidth=2, ticks="", ticklabelshift=6,
               tickfont=dict(family=FONT, size=10)),
    yaxis=dict(range=[-42.6, 43.3], tickvals=list(range(-35, 41, 5)),
               showgrid=True, gridcolor="#c4c4c4", gridwidth=1.5,
               zeroline=True, zerolinecolor="black", zerolinewidth=1,
               showline=True, linecolor="black", linewidth=2, ticks="",
               ticklabelstandoff=14, tickfont=dict(family=FONT, size=10)),
    yaxis2=dict(overlaying="y", side="right", range=[-7.6, 78.3], tickvals=list(range(0, 76, 5)),
                showgrid=False, zeroline=False, showline=True, linecolor="black", linewidth=2,
                ticks="", ticklabelstandoff=18, tickfont=dict(family=FONT, size=10)),
    annotations=annotations,
    shapes=shapes,
)

# the page's default body margin would shift the figure by 8px
fig.write_html("out.html", config={"displayModeBar": False},
               post_script="document.body.style.margin='0px';")
